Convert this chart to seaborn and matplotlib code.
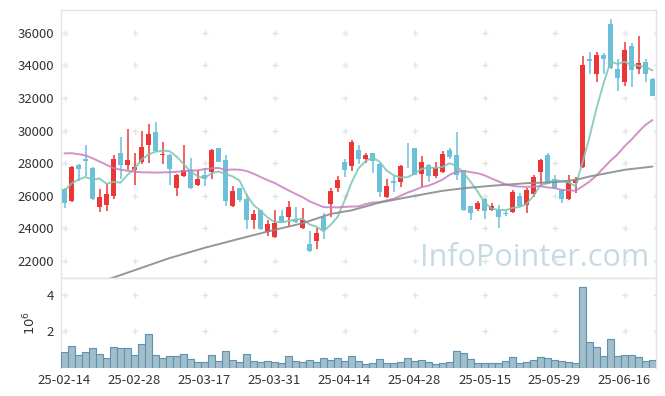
import numpy as np
import pandas as pd
import matplotlib
matplotlib.use("Agg")
import matplotlib.pyplot as plt
import seaborn as sns

# ---------------- data ----------------
holidays = ["2025-03-03", "2025-05-01", "2025-05-05", "2025-05-06", "2025-06-03", "2025-06-06"]
dates = [d for d in pd.bdate_range("2025-02-14", "2025-06-20") if d.strftime("%Y-%m-%d") not in holidays]

opens = [26400, 25650, 27900, 28250, 27700, 25300, 25450, 26000, 28650, 27900,
         27550, 28050, 29100, 29900, 28500, 28500, 26500, 27200, 27550, 26650,
         27300, 27450, 28950, 28200, 25350, 26500, 25800, 24500, 25150, 23750,
         23450, 24750, 24700, 24550, 24000, 23050, 23250, 24700, 25500, 26500,
         28100, 27800, 28800, 28250, 28600, 27950, 25900, 26900, 26850, 28250,
         28900, 27350, 27900, 27200, 27450, 28800, 28500, 27550, 25350, 25200,
         25800, 25100, 25150, 24950, 25000, 26000, 25450, 26100, 27450, 28500,
         27050, 26350, 25800, 26800, 27750, 34400, 33500, 34650, 36550, 33750,
         33000, 35200, 33750, 34200, 33150]
highs = [26450, 27800, 27950, 29100, 27750, 26400, 26750, 28500, 29600, 30100,
         28650, 30000, 30400, 30500, 29300, 28550, 27350, 29100, 28300, 27550,
         27700, 28850, 28950, 28500, 26600, 26500, 26100, 25150, 25150, 24500,
         25100, 25150, 25700, 25300, 25250, 23850, 24000, 24950, 26450, 27200,
         28250, 29450, 29100, 28650, 28650, 28000, 27000, 27200, 27900, 29250,
         28900, 28450, 27950, 28100, 28750, 28950, 29900, 27600, 25400, 25650,
         25850, 25550, 25450, 25100, 26350, 26150, 26450, 27300, 28250, 28600,
         27250, 26400, 27250, 27150, 34600, 34850, 34850, 34750, 36850, 34400,
         35450, 35400, 35800, 34400, 33200]
lows = [25250, 25600, 26900, 27200, 25750, 25000, 25050, 25800, 27000, 27600,
        26650, 27950, 28000, 28700, 27950, 26650, 26000, 27150, 26400, 26600,
        26600, 27050, 28050, 25400, 25300, 25600, 23950, 23950, 23900, 23500,
        23400, 24300, 24150, 24350, 23950, 22550, 22750, 23350, 24700, 26250,
        27150, 27500, 27950, 28000, 27400, 25950, 25850, 26200, 26550, 27700,
        27250, 26550, 26850, 27100, 27400, 28250, 26950, 25050, 24500, 25050,
        24600, 25050, 24000, 24750, 24950, 25300, 24950, 25950, 26550, 26700,
        26450, 25550, 25750, 26150, 27700, 33500, 32950, 33450, 33800, 32400,
        32750, 32650, 33450, 32950, 32100]
closes = [25550, 27750, 27650, 28150, 25800, 25950, 26100, 28250, 27900, 28200,
          27750, 29000, 29800, 28750, 28520, 27650, 27300, 27550, 26450, 27050,
          27050, 28800, 28100, 25700, 26300, 25750, 24500, 24900, 23950, 24250,
          24350, 24400, 25300, 24400, 24500, 22600, 23700, 23900, 26300, 26950,
          27600, 29300, 28250, 28500, 28150, 26250, 26600, 26800, 27800, 28230,
          27300, 28100, 27200, 27700, 28550, 28400, 27300, 25100, 24950, 25550,
          25050, 25400, 24700, 24850, 26250, 25350, 26350, 27150, 28200, 26750,
          26500, 25800, 26850, 27050, 34000, 34300, 34650, 34400, 33850, 33250,
          34950, 33700, 34150, 33500, 32150]
# volume in millions of shares
volumes = [0.84, 1.21, 0.68, 0.84, 1.05, 0.73, 0.52, 1.11, 1.05, 1.05,
           0.68, 1.27, 1.86, 0.68, 0.52, 0.63, 0.63, 0.73, 0.46, 0.30,
           0.30, 0.68, 0.36, 0.89, 0.41, 0.30, 0.73, 0.36, 0.30, 0.36,
           0.30, 0.25, 0.63, 0.36, 0.30, 0.41, 0.30, 0.52, 0.41, 0.52,
           0.36, 0.63, 0.36, 0.20, 0.25, 0.46, 0.25, 0.25, 0.30, 0.52,
           0.36, 0.41, 0.30, 0.20, 0.25, 0.30, 0.89, 0.79, 0.46, 0.25,
           0.25, 0.25, 0.25, 0.36, 0.57, 0.25, 0.30, 0.41, 0.57, 0.52,
           0.41, 0.36, 0.30, 0.25, 4.43, 1.38, 1.11, 0.63, 1.59, 0.63,
           0.68, 0.68, 0.57, 0.36, 0.41]

# moving-average values before enough history exists in the window
ma5_head = [26300, 26750, 27000, 27150]
ma20_head = [28600, 28610, 28550, 28470, 28300, 28100, 27900, 27700, 27600, 27530,
             27480, 27440, 27430, 27420, 27430, 27440, 27470, 27500, 27550]
# 120-day MA at these candle indices
ma120_idx = [0, 7, 15, 20, 24, 29, 34, 38, 41, 45, 50, 54, 57, 61, 66, 70, 73, 75, 80, 84]
ma120_val = [20000, 20980, 22170, 22800, 23250, 23800, 24310, 24880, 25100, 25580,
             25990, 26300, 26460, 26610, 26770, 26830, 26970, 27180, 27590, 27790]

# ---------------- frame ----------------
n = len(dates)
df = pd.DataFrame({"idx": np.arange(n), "open": opens, "high": highs, "low": lows,
                   "close": closes, "volume": volumes})
ma5 = df["close"].rolling(5).mean().to_numpy()
ma5[:4] = ma5_head
ma20 = df["close"].rolling(20).mean().to_numpy()
ma20[:19] = ma20_head
df["ma5"] = ma5
df["ma20"] = ma20
ma120_df = pd.DataFrame({"idx": ma120_idx, "ma120": ma120_val})

sns.set_theme(style="white")
plt.rcParams["font.family"] = ["Noto Sans CJK KR", "DejaVu Sans"]

RED = "#ec3535"
BLUE = "#6cc0da"
TXT = "#333333"
SPINE = "#e3e3e3"

fig = plt.figure(figsize=(6.65, 3.96), dpi=100)
L, R = 61 / 665, 656 / 665
y_split = 1 - 278 / 396
ax = fig.add_axes([L, y_split, R - L, (1 - 10 / 396) - y_split])
axv = fig.add_axes([L, 1 - 367.5 / 396, R - L, y_split - (1 - 367.5 / 396)], sharex=ax)

# candles
o = df["open"].to_numpy(); c = df["close"].to_numpy()
up = c >= o
cols = np.where(up, RED, BLUE)
ax.vlines(df["idx"], df["low"], df["high"], colors=cols, lw=1.1, zorder=2)
body = np.maximum(np.abs(c - o), 45)
ax.bar(df["idx"], body, bottom=np.minimum(o, c), width=0.62, color=cols, linewidth=0, zorder=3)

# moving averages
sns.lineplot(data=df, x="idx", y="ma5", ax=ax, color="#7cc6b4", lw=1.4, alpha=0.85, zorder=4)
sns.lineplot(data=df, x="idx", y="ma20", ax=ax, color="#c77fc0", lw=1.4, alpha=0.85, zorder=4)
sns.lineplot(data=ma120_df, x="idx", y="ma120", ax=ax, color="#8c8c8c", lw=1.4, alpha=0.9, zorder=4)

# volume
sns.barplot(data=df, x="idx", y="volume", ax=axv, native_scale=True, width=1.0,
            color="#9cc1d2", edgecolor="#5b92b0", linewidth=0.8, errorbar=None, zorder=3)

# axes limits / ticks
ax.set_xlim(-0.5, n - 0.5)
ax.set_ylim(20950, 37400)
axv.set_ylim(0, 4.93)

xt = list(range(0, n, 10))
yt = list(range(22000, 36001, 2000))
ax.set_yticks(yt)
ax.set_yticklabels([str(v) for v in yt])
axv.set_yticks([2, 4])
axv.set_yticklabels(["2", "4"])
axv.set_xticks(xt)
axv.set_xticklabels([dates[i].strftime("%y-%m-%d") for i in xt])
ax.tick_params(axis="x", labelbottom=False, length=0)
for a in (ax, axv):
    a.tick_params(axis="both", length=0, labelsize=9.5, colors=TXT, pad=5)
    a.set_xlabel("")
    a.set_ylabel("")
    for s in a.spines.values():
        s.set_color(SPINE)
        s.set_linewidth(1)
axv.spines["bottom"].set_visible(False)
axv.set_ylabel("$10^6$", color=TXT, fontsize=9.5)
axv.yaxis.set_label_coords(-0.038, 0.5)

# grid crosses
gx = xt + [n - 0.5]
for a, ys in ((ax, yt), (axv, [2, 4])):
    X, Y = np.meshgrid(gx, ys)
    a.plot(X.ravel(), Y.ravel(), ls="none", marker="+", ms=5, mew=1, color="#e4e4e4", zorder=1)

# watermark
ax.text(0.988, 0.045, "InfoPointer.com", transform=ax.transAxes, ha="right", va="baseline",
        fontsize=22, color="#c6dae4", family=["Open Sans", "DejaVu Sans"], zorder=0)

fig.savefig("out.png", dpi=100)
